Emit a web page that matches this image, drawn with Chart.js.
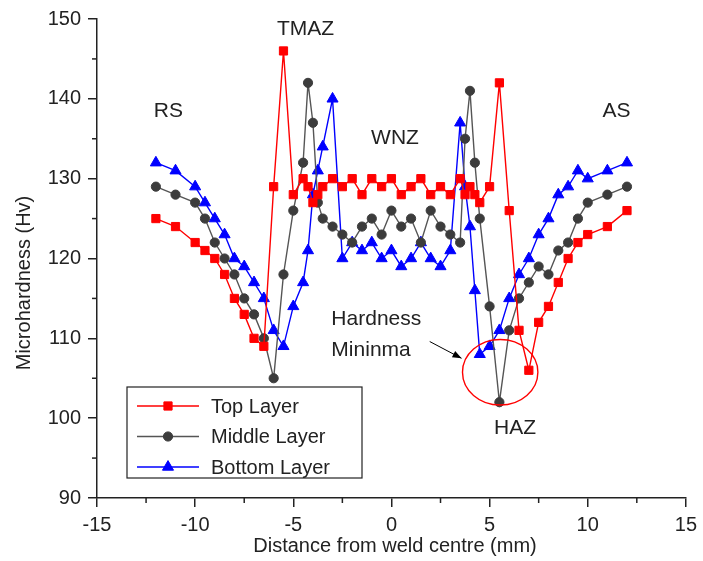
<!DOCTYPE html>
<html><head><meta charset="utf-8">
<script src="https://cdn.jsdelivr.net/npm/chart.js@4.4.0/dist/chart.umd.min.js"></script>
<style>html,body{margin:0;padding:0;background:#fff}#wrap{width:703px;height:561px}</style>
</head><body><div id="wrap"><canvas id="c" width="703" height="561"></canvas></div>
<script>
// ---- data ----
const distances = [-12,-11,-10,-9.5,-9,-8.5,-8,-7.5,-7,-6.5,-6,-5.5,-5,-4.5,-4.25,-4,-3.75,-3.5,-3,-2.5,-2,-1.5,-1,-0.5,0,0.5,1,1.5,2,2.5,3,3.5,3.75,4,4.25,4.5,5,5.5,6,6.5,7,7.5,8,8.5,9,9.5,10,11,12];
const topLayer = [125,124,122,121,120,118,115,113,110,109,129,146,128,130,129,127,128,129,130,129,130,128,130,129,130,128,129,130,128,129,128,130,128,129,128,127,129,142,126,111,106,112,114,117,120,122,123,124,126];
const middleLayer = [129,128,127,125,122,120,118,115,113,110,105,118,126,132,142,137,127,125,124,123,122,124,125,123,126,124,125,122,126,124,123,122,135,141,132,125,114,102,111,115,117,119,118,121,122,125,127,128,129];
const bottomLayer = [132,131,129,127,125,123,120,119,117,115,111,109,114,117,121,128,131,134,140,120,122,121,122,120,121,119,120,122,120,119,121,137,129,124,116,108,109,111,115,118,120,123,125,128,129,131,130,131,132];
const seriesNames = ['Top Layer','Middle Layer','Bottom Layer'];
const xTickValues = [-15,-10,-5,0,5,10,15];
const yTickValues = [90,100,110,120,130,140,150];
const xTitle = 'Distance from weld centre (mm)';
const yTitle = 'Microhardness (Hv)';
const zoneNames = ['RS','TMAZ','WNZ','AS','HAZ'];
const zoneAtX = [-11.36,-4.38,0.18,11.46,6.3];
const zoneAtY = [138.5,148.7,135.1,138.5,98.8];
const noteLines = ['Hardness','Mininma'];

// ---- styles ----
const FONT = '"Liberation Sans", Arial, sans-serif';
const INK = '#222';
const styles = [
  {color:'#ff0000', fill:'#ff0000', pointStyle:'rect', radius:5.8},
  {color:'#555555', fill:'#3c3c3c', pointStyle:'circle', radius:4.6},
  {color:'#0000ff', fill:'#0000ff', pointStyle:'triangle', radius:6.4}
];
const allSeries = [topLayer, middleLayer, bottomLayer];

const datasets = allSeries.map((vals, k) => ({
  label: seriesNames[k],
  data: distances.map((x, i) => ({x: x, y: vals[i]})),
  borderColor: styles[k].color,
  backgroundColor: styles[k].fill,
  pointBackgroundColor: styles[k].fill,
  pointBorderColor: styles[k].fill,
  pointStyle: styles[k].pointStyle,
  pointRadius: styles[k].radius,
  pointBorderWidth: 1,
  borderWidth: 1.4,
  tension: 0,
  showLine: true,
  clip: false
}));

const decor = {
  id: 'decor',
  afterDraw(chart) {
    const ctx = chart.ctx;
    const xs = chart.scales.x, ys = chart.scales.y;
    const X = v => xs.getPixelForValue(v), Y = v => ys.getPixelForValue(v);
    ctx.save();
    // minor ticks
    ctx.strokeStyle = INK; ctx.lineWidth = 1.5;
    for (let v = -12.5; v <= 12.5; v += 5) {
      ctx.beginPath(); ctx.moveTo(X(v), ys.bottom); ctx.lineTo(X(v), ys.bottom + 5); ctx.stroke();
    }
    for (let v = 95; v <= 145; v += 10) {
      ctx.beginPath(); ctx.moveTo(xs.left, Y(v)); ctx.lineTo(xs.left - 5, Y(v)); ctx.stroke();
    }
    // axis titles
    ctx.fillStyle = INK;
    ctx.font = '20px ' + FONT;
    ctx.textAlign = 'center'; ctx.textBaseline = 'middle';
    ctx.fillText(xTitle, 395, 546);
    ctx.save(); ctx.translate(24, 283); ctx.rotate(-Math.PI/2); ctx.fillText(yTitle, 0, 0); ctx.restore();
    // zone labels
    ctx.font = '21px ' + FONT;
    zoneNames.forEach((t, i) => ctx.fillText(t, X(zoneAtX[i]), Y(zoneAtY[i])));
    ctx.textAlign = 'left';
    ctx.fillText(noteLines[0], X(-3.06), Y(112.4));
    ctx.fillText(noteLines[1], X(-3.06), Y(108.5));
    // arrow
    const ax0 = X(1.95), ay0 = Y(109.6), ax1 = X(3.57), ay1 = Y(107.5);
    ctx.strokeStyle = '#000'; ctx.lineWidth = 1;
    ctx.beginPath(); ctx.moveTo(ax0, ay0); ctx.lineTo(ax1, ay1); ctx.stroke();
    const ang = Math.atan2(ay1 - ay0, ax1 - ax0);
    ctx.fillStyle = '#000';
    ctx.beginPath(); ctx.moveTo(ax1, ay1);
    ctx.lineTo(ax1 - 9*Math.cos(ang) + 3.5*Math.sin(ang), ay1 - 9*Math.sin(ang) - 3.5*Math.cos(ang));
    ctx.lineTo(ax1 - 9*Math.cos(ang) - 3.5*Math.sin(ang), ay1 - 9*Math.sin(ang) + 3.5*Math.cos(ang));
    ctx.closePath(); ctx.fill();
    // ellipse
    const ecx = X(5.54), ecy = Y(105.75);
    const erx = X(5.54 + 1.92) - ecx, ery = ecy - Y(105.75 + 4.11);
    ctx.strokeStyle = '#ff0000'; ctx.lineWidth = 1.4;
    ctx.beginPath(); ctx.ellipse(ecx, ecy, erx, ery, 0, 0, Math.PI*2); ctx.stroke();
    // legend
    const lx = 127, ly = 387, lw = 235, lh = 91;
    ctx.strokeStyle = INK; ctx.lineWidth = 1.2;
    ctx.fillStyle = '#fff';
    ctx.fillRect(lx, ly, lw, lh);
    ctx.strokeRect(lx, ly, lw, lh);
    ctx.font = '20px ' + FONT; ctx.textBaseline = 'middle'; ctx.textAlign = 'left';
    seriesNames.forEach((name, k) => {
      const yy = ly + 19 + k * 30.5;
      ctx.strokeStyle = styles[k].color; ctx.lineWidth = 1.4;
      ctx.beginPath(); ctx.moveTo(lx + 10, yy); ctx.lineTo(lx + 72, yy); ctx.stroke();
      ctx.fillStyle = styles[k].fill; ctx.strokeStyle = styles[k].fill; ctx.lineWidth = 1;
      Chart.helpers.drawPoint(ctx, {pointStyle: styles[k].pointStyle, radius: styles[k].radius, rotation: 0, borderWidth: 1}, lx + 41, yy);
      ctx.fillStyle = INK;
      ctx.fillText(name, lx + 84, yy + 1);
    });
    ctx.restore();
  }
};

new Chart(document.getElementById('c'), {
  type: 'scatter',
  data: {datasets},
  options: {
    responsive: false, animation: false, devicePixelRatio: 1,
    layout: {padding: {top: 16, right: 13, left: 0, bottom: 0}},
    plugins: {legend: {display: false}, tooltip: {enabled: false}},
    scales: {
      x: {
        type: 'linear', min: -15, max: 15,
        afterBuildTicks: s => { s.ticks = xTickValues.map(v => ({value: v})); },
        afterFit: s => { s.height = 63; },
        ticks: {font: {size: 20, family: FONT}, color: INK, padding: 6, maxRotation: 0},
        grid: {drawOnChartArea: false, tickLength: 9, color: INK, lineWidth: 1.5},
        border: {display: true, color: INK, width: 1.5}
      },
      y: {
        type: 'linear', min: 90, max: 150,
        afterBuildTicks: s => { s.ticks = yTickValues.map(v => ({value: v})); },
        afterFit: s => { s.width = 97; },
        ticks: {font: {size: 20, family: FONT}, color: INK, padding: 7},
        grid: {drawOnChartArea: false, tickLength: 9, color: INK, lineWidth: 1.5},
        border: {display: true, color: INK, width: 1.5}
      }
    }
  },
  plugins: [decor]
});
</script>
</body></html>
